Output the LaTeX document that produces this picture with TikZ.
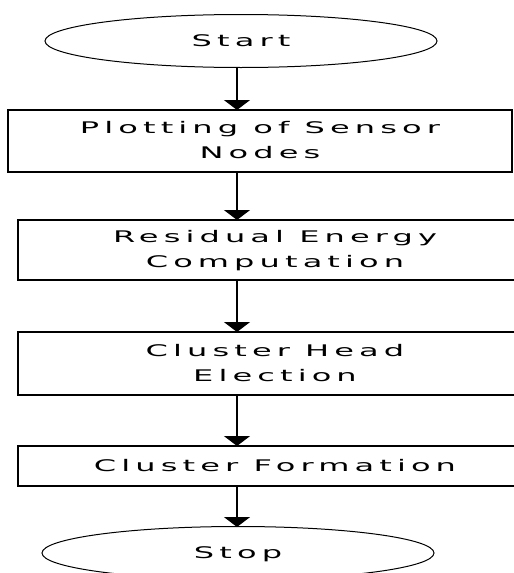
\documentclass[tikz,border=0pt]{standalone}
\usepackage{fontspec}
\usepackage{graphicx}
\setmainfont[LetterSpace=16]{DejaVu Sans}
\usetikzlibrary{shapes.geometric,arrows.meta}
\newcommand{\widetext}[1]{\scalebox{2}[1]{\begin{tabular}{@{}c@{}}#1\end{tabular}}}
\tikzset{
  term/.style={ellipse,draw,line width=1pt,inner sep=0pt,minimum width=392pt,minimum height=53pt,font=\fontsize{16}{25}\selectfont},
  stepbox/.style={rectangle,draw,line width=1.2pt,inner sep=0pt,align=center,font=\fontsize{16}{25}\selectfont},
  flow/.style={line width=1.6pt,-{Triangle[width=26pt,length=10pt]}}
}
\begin{document}
\begin{tikzpicture}[x=1pt,y=-1pt]
\useasboundingbox (0,0) rectangle (514,573);
\node[term] (start) at (241,41) {\widetext{Start}};
\node[stepbox,minimum width=504pt,minimum height=62pt] (b1) at (260,141) {\widetext{Plotting of Sensor\\Nodes}};
\node[stepbox,minimum width=514pt,minimum height=60pt] (b2) at (275,250) {\widetext{Residual Energy\\Computation}};
\node[stepbox,minimum width=514pt,minimum height=63pt] (b3) at (275,363.5) {\widetext{Cluster Head\\Election}};
\node[stepbox,minimum width=514pt,minimum height=40pt] (b4) at (275,466) {\widetext{Cluster Formation}};
\node[term] (stop) at (238,553) {\widetext{Stop}};
\coordinate (a0) at (237,67);
\coordinate (a1) at (237,110);
\coordinate (a2) at (237,172);
\coordinate (a3) at (237,220);
\coordinate (a4) at (237,280);
\coordinate (a5) at (237,332);
\coordinate (a6) at (237,395);
\coordinate (a7) at (237,446);
\coordinate (a8) at (237,486);
\coordinate (a9) at (237,527);
\draw[flow] (a0) -- (a1);
\draw[flow] (a2) -- (a3);
\draw[flow] (a4) -- (a5);
\draw[flow] (a6) -- (a7);
\draw[flow] (a8) -- (a9);
\end{tikzpicture}
\end{document}
